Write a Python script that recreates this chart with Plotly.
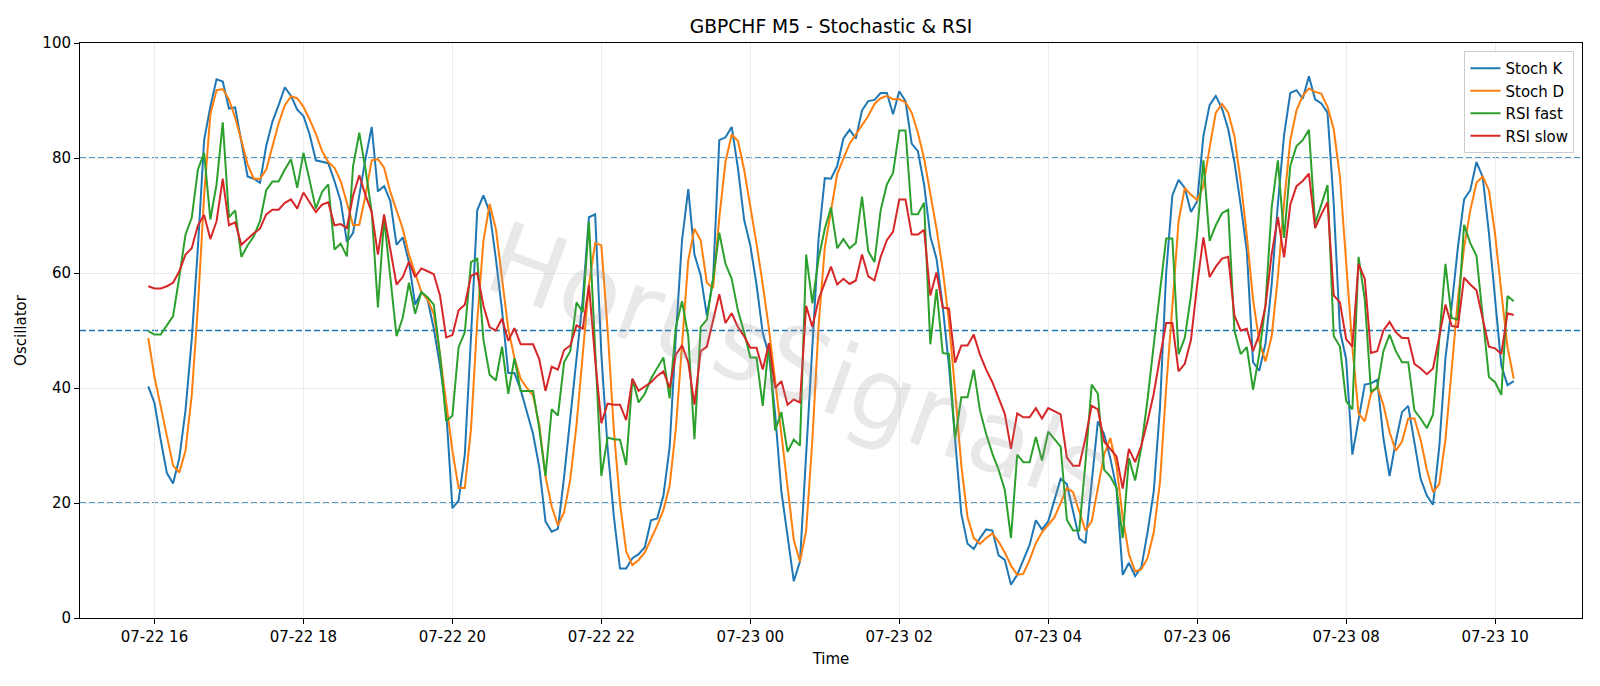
import pandas as pd
import plotly.graph_objects as go

start_time = "2025-07-22 15:55"
bar_minutes = 5

stoch_k = [
    40.3, 37.4, 31.0, 25.2, 23.4, 27.8, 36.1, 48.4, 64.5, 83.1,
    88.9, 93.7, 93.3, 88.6, 88.8, 82.8, 76.8, 76.4, 75.7, 82.1,
    86.3, 89.2, 92.3, 90.8, 88.4, 87.3, 84.1, 79.6, 79.4, 79.1,
    76.0, 72.5, 65.4, 67.0, 73.5, 79.9, 85.4, 74.2, 75.1, 72.5,
    64.9, 66.2, 61.9, 54.5, 56.7, 55.4, 50.3, 43.9, 36.1, 19.1,
    20.4, 28.4, 49.0, 70.9, 73.5, 70.6, 62.5, 53.5, 42.6, 42.6,
    39.7, 35.8, 32.0, 26.2, 16.8, 15.0, 15.5, 24.6, 34.9, 45.8,
    55.4, 69.7, 70.2, 45.8, 29.7, 17.8, 8.6, 8.6, 10.4, 11.1,
    12.3, 17.0, 17.3, 21.3, 29.7, 49.0, 65.7, 74.6, 63.2, 59.6,
    52.6, 58.8, 83.1, 83.6, 85.4, 78.3, 69.3, 64.8, 58.0, 49.6,
    45.8, 35.5, 22.0, 14.3, 6.4, 9.8, 28.0, 47.0, 66.0, 76.5,
    76.4, 78.6, 83.4, 84.9, 83.4, 88.3, 89.9, 90.1, 91.3, 91.3,
    87.6, 91.6, 89.9, 82.5, 81.2, 75.4, 66.4, 62.5, 54.2, 43.9,
    31.0, 18.1, 12.9, 12.0, 13.9, 15.4, 15.2, 10.9, 10.1, 5.8,
    7.5, 10.1, 12.7, 17.0, 15.4, 16.8, 20.7, 24.2, 23.3, 18.8,
    13.8, 13.0, 23.3, 34.2, 32.0, 27.8, 22.6, 7.5, 9.6, 7.3,
    8.8, 14.9, 22.0, 36.5, 60.0, 73.5, 76.2, 74.8, 70.6, 72.5,
    83.8, 89.2, 90.8, 88.6, 85.0, 79.3, 71.9, 63.8, 44.5, 43.0,
    47.7, 58.0, 72.0, 84.0, 91.3, 91.8, 90.3, 94.2, 90.2, 89.5,
    87.9, 72.0, 50.0, 45.0, 28.4, 34.2, 40.6, 40.8, 41.4, 31.3,
    24.7, 30.7, 35.8, 36.9, 30.3, 24.2, 21.3, 19.7, 29.7, 45.2,
    54.2, 64.4, 72.8, 74.4, 79.3, 76.7, 67.0, 56.1, 43.9, 40.5,
    41.2,
]

stoch_d = [
    48.7, 41.9, 36.8, 31.6, 26.5, 25.3, 29.1, 38.7, 54.2, 73.5,
    87.6, 91.8, 92.0, 90.2, 87.0, 83.1, 78.9, 76.4, 76.4, 78.0,
    81.8, 86.0, 89.2, 90.7, 90.4, 88.9, 86.7, 84.2, 81.2, 79.3,
    78.3, 76.0, 72.2, 68.3, 68.4, 73.5, 79.6, 79.8, 78.3, 74.1,
    70.9, 67.7, 63.2, 59.9, 56.7, 55.4, 52.9, 45.8, 37.4, 29.1,
    22.6, 22.6, 32.9, 51.6, 65.6, 72.0, 67.7, 59.3, 50.3, 45.2,
    41.6, 40.0, 38.7, 33.6, 24.6, 19.4, 16.1, 18.4, 24.2, 33.6,
    45.8, 58.0, 65.2, 64.8, 50.3, 32.9, 20.0, 11.6, 9.2, 10.1,
    11.4, 13.7, 16.1, 18.8, 23.0, 32.9, 47.7, 62.2, 67.7, 65.7,
    58.3, 57.4, 69.6, 79.3, 84.1, 83.0, 78.0, 71.9, 65.1, 58.0,
    50.3, 41.3, 32.3, 23.3, 13.6, 9.8, 15.2, 31.0, 50.9, 64.4,
    71.2, 77.2, 79.9, 82.5, 84.1, 85.6, 87.3, 89.4, 90.4, 90.8,
    90.2, 90.2, 89.7, 87.9, 84.4, 79.9, 74.1, 67.7, 60.6, 51.6,
    39.4, 26.5, 17.5, 13.9, 12.9, 13.9, 14.7, 13.3, 11.4, 9.1,
    7.5, 7.7, 10.1, 13.0, 14.9, 16.2, 17.5, 20.0, 22.6, 21.9,
    18.4, 15.2, 16.8, 22.6, 28.4, 31.3, 26.5, 17.5, 11.1, 8.1,
    8.5, 10.4, 14.9, 23.6, 40.0, 54.2, 69.0, 74.8, 73.6, 72.7,
    75.1, 81.8, 87.9, 89.4, 87.9, 83.8, 76.0, 66.4, 55.4, 48.1,
    44.6, 49.0, 59.3, 72.2, 83.1, 88.3, 90.8, 92.1, 91.5, 91.2,
    88.9, 85.0, 76.7, 61.9, 47.1, 35.6, 34.2, 39.0, 40.3, 37.1,
    32.3, 29.1, 30.7, 34.7, 34.7, 31.0, 25.8, 21.9, 23.3, 31.0,
    42.6, 55.4, 64.4, 70.9, 75.7, 76.8, 74.4, 66.7, 56.7, 47.1,
    41.6,
]

rsi_fast = [
    49.9, 49.3, 49.3, 50.9, 52.5, 59.3, 66.7, 69.6, 78.0, 80.9,
    69.3, 75.4, 86.2, 69.7, 70.9, 62.8, 64.8, 66.4, 69.0, 74.4,
    75.9, 75.9, 78.0, 79.8, 74.8, 80.9, 76.3, 71.2, 74.1, 75.4,
    64.1, 65.1, 62.9, 78.6, 84.4, 78.0, 70.6, 54.0, 69.5, 58.7,
    49.0, 52.2, 58.3, 52.9, 56.7, 55.8, 54.5, 45.8, 34.2, 35.2,
    47.1, 49.7, 61.9, 62.5, 48.4, 42.3, 41.3, 47.2, 39.0, 45.2,
    39.5, 39.5, 39.5, 32.9, 24.7, 36.3, 35.2, 44.5, 46.4, 54.9,
    53.2, 68.9, 48.0, 24.7, 31.4, 31.1, 31.0, 26.6, 41.6, 37.5,
    39.0, 41.6, 43.5, 45.3, 38.2, 50.6, 55.1, 49.0, 31.1, 50.6,
    51.9, 59.0, 67.0, 61.6, 59.0, 53.5, 49.7, 45.3, 45.3, 36.9,
    47.8, 32.6, 35.8, 28.9, 31.0, 30.0, 63.2, 54.7, 62.5, 67.7,
    71.4, 64.3, 65.9, 64.3, 65.2, 73.3, 63.8, 61.9, 70.9, 75.4,
    77.4, 84.8, 84.8, 70.2, 70.2, 72.2, 47.6, 57.2, 46.1, 45.9,
    31.1, 38.4, 38.4, 43.2, 36.1, 32.0, 28.6, 25.8, 22.3, 13.9,
    28.4, 27.1, 27.1, 31.5, 27.4, 32.4, 31.1, 29.8, 17.1, 15.2,
    15.2, 27.0, 40.6, 39.0, 25.8, 24.6, 22.6, 13.9, 27.8, 23.9,
    29.7, 38.0, 47.5, 56.5, 66.0, 66.0, 45.9, 48.7, 56.1, 67.0,
    79.6, 65.6, 68.3, 70.4, 71.0, 50.0, 45.9, 47.1, 39.7, 45.9,
    54.5, 71.4, 79.6, 66.1, 78.6, 82.1, 83.1, 84.9, 68.6, 71.9,
    75.3, 49.0, 47.2, 37.7, 36.3, 62.8, 55.4, 39.4, 40.0, 46.4,
    49.3, 46.4, 44.5, 44.5, 36.1, 34.7, 33.0, 35.4, 48.0, 61.6,
    52.2, 51.9, 68.4, 65.2, 63.0, 52.5, 41.9, 41.0, 38.8, 56.0,
    55.1,
]

rsi_slow = [
    57.7, 57.3, 57.3, 57.7, 58.3, 60.3, 63.2, 64.3, 68.3, 70.1,
    65.9, 69.0, 76.4, 68.3, 68.8, 64.9, 65.9, 66.9, 67.7, 70.2,
    71.0, 71.0, 72.2, 72.8, 71.2, 74.0, 72.3, 70.6, 71.9, 72.3,
    68.3, 68.5, 67.8, 73.5, 77.0, 73.5, 70.6, 63.2, 70.2, 63.8,
    58.0, 59.3, 62.0, 59.3, 60.8, 60.3, 59.8, 56.1, 48.8, 49.2,
    53.5, 54.5, 59.5, 60.0, 54.3, 50.6, 50.0, 52.1, 48.2, 50.4,
    47.6, 47.6, 47.6, 45.0, 39.5, 43.7, 43.2, 46.6, 47.4, 50.9,
    50.3, 57.9, 45.0, 33.9, 37.3, 37.1, 37.1, 34.4, 41.6, 39.5,
    40.3, 41.0, 42.1, 42.9, 40.0, 45.8, 47.4, 44.5, 37.1, 46.4,
    47.2, 51.5, 56.3, 51.3, 53.0, 50.6, 49.0, 47.0, 47.0, 43.2,
    47.8, 40.0, 41.2, 37.1, 38.0, 37.5, 54.3, 50.6, 55.4, 58.3,
    61.1, 58.0, 59.0, 58.1, 58.7, 63.2, 59.4, 58.7, 62.8, 65.7,
    67.2, 72.8, 72.8, 66.7, 66.7, 67.5, 56.1, 60.1, 54.0, 53.8,
    44.4, 47.4, 47.4, 49.3, 45.8, 43.2, 41.0, 38.3, 35.5, 29.4,
    35.6, 34.9, 34.9, 36.5, 34.7, 36.5, 36.0, 35.4, 27.9, 26.5,
    26.5, 31.3, 36.9, 36.3, 30.7, 29.4, 28.1, 22.5, 29.4, 27.1,
    30.0, 34.2, 39.0, 45.3, 51.3, 51.3, 42.9, 44.2, 48.4, 58.0,
    66.2, 59.3, 61.1, 62.5, 62.8, 52.6, 50.0, 50.3, 46.4, 49.3,
    54.2, 63.3, 69.7, 62.7, 71.9, 75.1, 76.0, 77.3, 67.8, 70.2,
    72.3, 56.1, 54.9, 48.5, 47.2, 61.6, 59.0, 46.1, 46.4, 50.0,
    51.5, 49.7, 48.7, 48.7, 44.2, 43.4, 42.4, 43.4, 49.0, 54.5,
    50.8, 50.6, 59.2, 58.0, 57.0, 52.2, 47.2, 46.9, 45.9, 53.0,
    52.7,
]

series_names = ["Stoch K", "Stoch D", "RSI fast", "RSI slow"]
series_colors = ["#1f77b4", "#ff7f0e", "#2ca02c", "#d62728"]
levels = [20, 50, 80]
y_ticks = [0, 20, 40, 60, 80, 100]
x_range = ["2025-07-22 15:00", "2025-07-23 11:10"]
watermark = "HorusSignals"

times = pd.date_range(start_time, periods=len(stoch_k), freq=f"{bar_minutes}min")

FONT = "DejaVu Sans"
fig = go.Figure()
for name, vals, col in zip(series_names, [stoch_k, stoch_d, rsi_fast, rsi_slow], series_colors):
    fig.add_trace(go.Scatter(x=times, y=vals, mode="lines", name=name,
                             line=dict(color=col, width=2)))

for lv in levels:
    fig.add_shape(type="line", xref="paper", x0=0, x1=1, yref="y", y0=lv, y1=lv,
                  line=dict(color="#1f77b4", width=1.6, dash="6px,3px"), layer="below")

fig.add_annotation(text=watermark, xref="paper", yref="paper", x=0.479, y=0.44,
                   showarrow=False, textangle=20,
                   font=dict(family=FONT, size=100, color="rgba(150,150,150,0.22)"))

fig.update_layout(
    width=1600, height=686,
    margin=dict(l=80, r=18, t=43, b=68),
    paper_bgcolor="white", plot_bgcolor="white",
    font=dict(family=FONT, size=15, color="black"),
    title=dict(text="GBPCHF M5 - Stochastic & RSI", x=0.5, xref="paper",
               y=1 - 26 / 686, yref="container", yanchor="middle",
               font=dict(family=FONT, size=18.7, color="black")),
    legend=dict(x=0.995, y=0.986, xanchor="right", yanchor="top",
                bgcolor="rgba(255,255,255,0.85)", bordercolor="#cccccc", borderwidth=1,
                font=dict(family=FONT, size=15), tracegroupgap=0),
    showlegend=True,
)

fig.update_xaxes(
    range=x_range, type="date", tickformat="%m-%d %H",
    dtick=2 * 3600 * 1000, tick0="2025-07-22 00:00",
    showgrid=True, gridcolor="#ebebeb", gridwidth=1,
    showline=True, linecolor="black", linewidth=1, mirror=True,
    ticks="outside", ticklen=5, tickcolor="black",
    title=dict(text="Time", standoff=8, font=dict(size=15)),
    zeroline=False,
)
fig.update_yaxes(
    range=[0, 100], tickvals=y_ticks,
    showgrid=True, gridcolor="#ebebeb", gridwidth=1,
    showline=True, linecolor="black", linewidth=1, mirror=True,
    ticks="outside", ticklen=5, tickcolor="black",
    title=dict(text="Oscillator", standoff=12, font=dict(size=15)),
    zeroline=False,
)

fig.write_html("out.html")
